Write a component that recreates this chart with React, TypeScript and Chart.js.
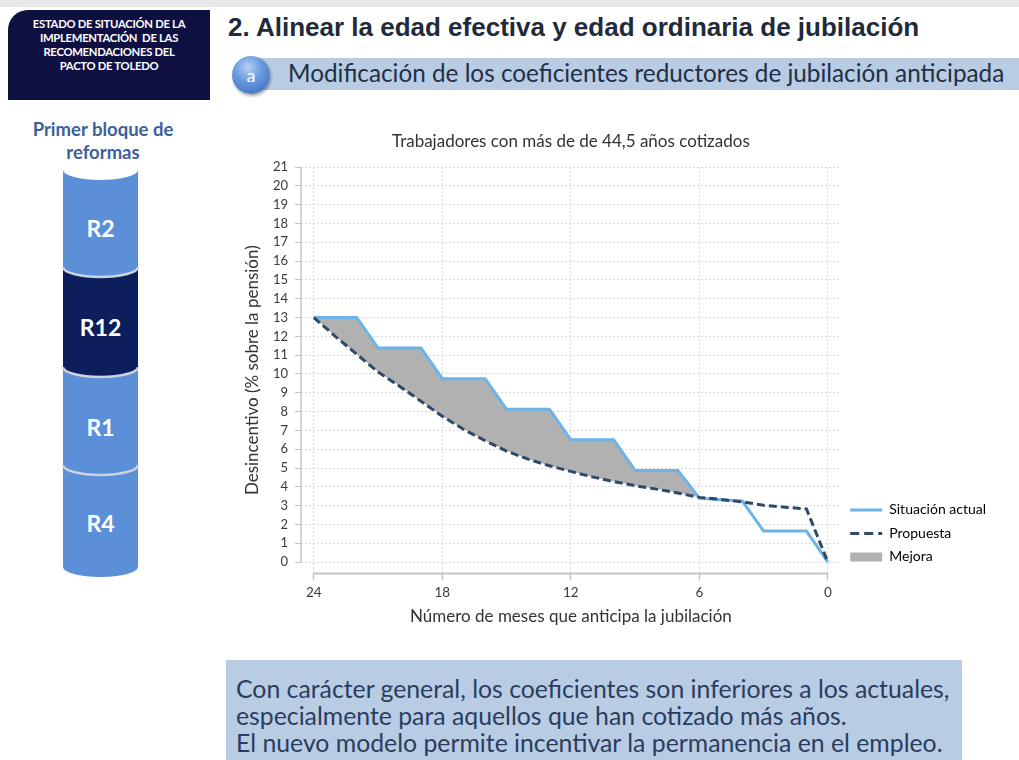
import React, { useEffect, useRef } from 'react';
import { Chart, registerables } from 'chart.js';

Chart.register(...registerables);

// ---------- Data ----------
const MESES = [24, 23, 22, 21, 20, 19, 18, 17, 16, 15, 14, 13, 12, 11, 10, 9, 8, 7, 6, 5, 4, 3, 2, 1, 0];
const SITUACION_ACTUAL = [13, 13, 13, 11.375, 11.375, 11.375, 9.75, 9.75, 9.75, 8.125, 8.125, 8.125, 6.5, 6.5, 6.5, 4.875, 4.875, 4.875, 3.4, 3.32, 3.25, 1.65, 1.65, 1.65, 0];
const PROPUESTA = [13, 12.0, 11.05, 10.1, 9.35, 8.55, 7.75, 7.05, 6.45, 5.9, 5.47, 5.12, 4.82, 4.53, 4.28, 4.06, 3.88, 3.67, 3.44, 3.33, 3.2, 3.02, 2.92, 2.83, 0];
const X_TICKS = [24, 18, 12, 6, 0];
const Y_TICKS = [0, 1, 2, 3, 4, 5, 6, 7, 8, 9, 10, 11, 12, 13, 14, 15, 16, 17, 18, 19, 20, 21];
const LEGEND_LABELS = ['Situación actual', 'Propuesta', 'Mejora'];
const CHART_TITLE = 'Trabajadores con más de de 44,5 años cotizados';
const X_TITLE = 'Número de meses que anticipa la jubilación';
const Y_TITLE = 'Desincentivo (% sobre la pensión)';

const COLOR_ACTUAL = '#6cb3e6';
const COLOR_PROPUESTA = '#2f4a68';
const COLOR_MEJORA = '#b1b1b1';
const GRID_COLOR = '#d9d9d9';
const AXIS_COLOR = '#c4c4c4';
const TEXT_COLOR = '#3a3a3a';

const CYLINDER = [
  { label: 'R2', top: 170, bottom: 267, color: '#5b8fd8', labelY: 228 },
  { label: 'R12', top: 267, bottom: 367, color: '#0c1f5c', labelY: 327 },
  { label: 'R1', top: 367, bottom: 465, color: '#5b8fd8', labelY: 427 },
  { label: 'R4', top: 465, bottom: 567, color: '#5b8fd8', labelY: 523 },
];

const axisLines = {
  id: 'axisLines',
  beforeDatasetsDraw(chart: any) {
    const { ctx, chartArea, scales } = chart;
    const x = scales.x;
    const y = scales.y;
    ctx.save();
    ctx.strokeStyle = AXIS_COLOR;
    ctx.lineWidth = 1.5;
    ctx.beginPath();
    ctx.moveTo(chartArea.left, y.getPixelForValue(Y_TICKS[Y_TICKS.length - 1]));
    ctx.lineTo(chartArea.left, y.getPixelForValue(Y_TICKS[0]));
    ctx.stroke();
    ctx.lineWidth = 2;
    ctx.beginPath();
    ctx.moveTo(x.getPixelForValue(X_TICKS[0]), chartArea.bottom);
    ctx.lineTo(x.getPixelForValue(X_TICKS[X_TICKS.length - 1]), chartArea.bottom);
    ctx.stroke();
    ctx.restore();
  },
};

function ChartBox() {
  const ref = useRef<HTMLCanvasElement>(null);
  useEffect(() => {
    if (!ref.current) return;
    Chart.defaults.font.family = 'Lato';
    const chart = new Chart(ref.current, {
      type: 'line',
      data: {
        datasets: [
          {
            label: LEGEND_LABELS[0],
            data: MESES.map((m, i) => ({ x: m, y: SITUACION_ACTUAL[i] })),
            borderColor: COLOR_ACTUAL,
            backgroundColor: COLOR_ACTUAL,
            borderWidth: 3,
            pointRadius: 0,
            tension: 0,
            fill: { target: 1, above: COLOR_MEJORA, below: 'rgba(0,0,0,0)' },
            order: 2,
          },
          {
            label: LEGEND_LABELS[1],
            data: MESES.map((m, i) => ({ x: m, y: PROPUESTA[i] })),
            borderColor: COLOR_PROPUESTA,
            backgroundColor: COLOR_PROPUESTA,
            borderWidth: 3,
            borderDash: [8, 4],
            pointRadius: 0,
            tension: 0,
            fill: false,
            order: 1,
          },
        ],
      },
      options: {
        animation: false,
        responsive: false,
        maintainAspectRatio: false,
        events: [],
        layout: { padding: 0 },
        plugins: {
          filler: { drawTime: 'beforeDatasetsDraw' },
          tooltip: { enabled: false },
          title: {
            display: true,
            text: CHART_TITLE,
            fullSize: false,
            color: '#333',
            font: { family: 'Lato', size: 17, weight: 'normal' },
            padding: { top: 5, bottom: 15.6 },
          },
          legend: {
            position: 'right',
            align: 'end',
            fullSize: false,
            labels: {
              usePointStyle: true,
              pointStyleWidth: 32,
              boxHeight: 9,
              padding: 9.5,
              color: '#555',
              font: { family: 'Lato', size: 14 },
              generateLabels: () => [
                { text: LEGEND_LABELS[0], fillStyle: COLOR_ACTUAL, strokeStyle: COLOR_ACTUAL, lineWidth: 3, lineDash: [], pointStyle: 'line', hidden: false, datasetIndex: 0 },
                { text: LEGEND_LABELS[1], fillStyle: COLOR_PROPUESTA, strokeStyle: COLOR_PROPUESTA, lineWidth: 3, lineDash: [9, 5], pointStyle: 'line', hidden: false, datasetIndex: 1 },
                { text: LEGEND_LABELS[2], fillStyle: COLOR_MEJORA, strokeStyle: COLOR_MEJORA, lineWidth: 0, pointStyle: 'rect', hidden: false },
              ] as any,
            },
          },
        },
        scales: {
          x: {
            type: 'linear',
            reverse: true,
            min: -0.6,
            max: 24.6,
            afterBuildTicks: (s: any) => { s.ticks = X_TICKS.map((v) => ({ value: v })); },
            ticks: { color: TEXT_COLOR, font: { family: 'Lato', size: 13.5 }, padding: 4, autoSkip: false, maxRotation: 0 },
            grid: { color: GRID_COLOR, lineWidth: 1, tickLength: 7, tickColor: AXIS_COLOR, tickWidth: 1.5, tickBorderDash: [] },
            border: { display: false, dash: [2, 2] },
            title: { display: true, text: X_TITLE, color: '#333', font: { family: 'Lato', size: 17 }, padding: { top: 2, bottom: 3 } },
          },
          y: {
            type: 'linear',
            min: -0.6,
            max: 21,
            afterBuildTicks: (s: any) => { s.ticks = Y_TICKS.map((v) => ({ value: v })); },
            afterFit: (s: any) => { s.width = 63; },
            ticks: { color: TEXT_COLOR, font: { family: 'Lato', size: 13 }, padding: 7, autoSkip: false },
            grid: { color: GRID_COLOR, lineWidth: 1, tickLength: 6, tickColor: AXIS_COLOR, tickWidth: 1, tickBorderDash: [] },
            border: { display: false, dash: [2, 2] },
            title: { display: true, text: Y_TITLE, color: '#333', font: { family: 'Lato', size: 17 }, padding: { top: 4, bottom: 4 } },
          },
        },
      },
      plugins: [axisLines],
    } as any);
    return () => chart.destroy();
  }, []);
  return (
    <canvas
      ref={ref}
      width={758}
      height={504}
      style={{ position: 'absolute', left: 238, top: 126, width: 758, height: 504 }}
    />
  );
}

function Cylinder() {
  const L = 63;
  const R = 138;
  const rx = (R - L) / 2;
  const ry = 10;
  return (
    <svg width={220} height={600} style={{ position: 'absolute', left: 0, top: 0 }}>
      {CYLINDER.map((s) => (
        <path
          key={s.label}
          d={`M ${L} ${s.top} A ${rx} ${ry} 0 0 0 ${R} ${s.top} L ${R} ${s.bottom} A ${rx} ${ry} 0 0 1 ${L} ${s.bottom} Z`}
          fill={s.color}
        />
      ))}
      {CYLINDER.slice(1).map((s) => (
        <path
          key={'sep' + s.label}
          d={`M ${L} ${s.top} A ${rx} ${ry} 0 0 0 ${R} ${s.top}`}
          fill="none"
          stroke="#cdd3dc"
          strokeWidth={2.5}
        />
      ))}
      {CYLINDER.map((s) => (
        <text
          key={'t' + s.label}
          x={(L + R) / 2}
          y={s.labelY}
          textAnchor="middle"
          dominantBaseline="central"
          fill="#ffffff"
          style={{ fontFamily: 'Lato', fontWeight: 700, fontSize: 23 }}
        >
          {s.label}
        </text>
      ))}
    </svg>
  );
}

export default function App() {
  return (
    <div
      style={{
        position: 'absolute',
        left: 0,
        top: 0,
        width: 1019,
        height: 760,
        background: '#ffffff',
        overflow: 'hidden',
        fontFamily: 'Lato, sans-serif',
      }}
    >
      <div style={{ position: 'absolute', left: 0, top: 0, width: 1019, height: 7, background: '#e8e8e8' }} />
      <div
        style={{
          position: 'absolute',
          left: 8,
          top: 10,
          width: 202,
          height: 90,
          background: '#0f1042',
          borderTopLeftRadius: 20,
        }}
      />
      <div
        style={{
          position: 'absolute',
          left: 8,
          top: 17,
          width: 202,
          textAlign: 'center',
          color: '#ffffff',
          fontFamily: 'Lato',
          fontWeight: 700,
          fontSize: 11.3,
          lineHeight: '14px',
          letterSpacing: -0.3,
          whiteSpace: 'nowrap',
        }}
      >
        <div>ESTADO DE SITUACIÓN DE LA</div>
        <div>IMPLEMENTACIÓN&nbsp; DE LAS</div>
        <div>RECOMENDACIONES DEL</div>
        <div>PACTO DE TOLEDO</div>
      </div>

      <div
        style={{
          position: 'absolute',
          left: 228,
          top: 12,
          height: 30,
          lineHeight: '30px',
          fontFamily: '"Liberation Sans", Arial, sans-serif',
          fontWeight: 700,
          fontSize: 26,
          color: '#1f2b3a',
          whiteSpace: 'nowrap',
        }}
      >
        2. Alinear la edad efectiva y edad ordinaria de jubilación
      </div>

      <div style={{ position: 'absolute', left: 242, top: 58, width: 777, height: 32, background: '#b8cce4' }} />
      <div
        style={{
          position: 'absolute',
          left: 232,
          top: 56,
          width: 38,
          height: 38,
          borderRadius: '50%',
          background: 'radial-gradient(circle at 42% 30%, #b4cff3 0%, #6a9be0 40%, #3565b4 100%)',
          boxShadow: '1px 2px 3px rgba(0,0,0,0.35)',
          color: '#ffffff',
          textAlign: 'center',
          lineHeight: '38px',
          fontFamily: 'Lato',
          fontSize: 18,
        }}
      >
        a
      </div>
      <div
        style={{
          position: 'absolute',
          left: 288,
          top: 57,
          height: 32,
          lineHeight: '32px',
          fontFamily: 'Lato',
          fontSize: 24.3,
          color: '#222f44',
          whiteSpace: 'nowrap',
        }}
      >
        Modificación de los coeficientes reductores de jubilación anticipada
      </div>

      <div
        style={{
          position: 'absolute',
          left: 3,
          top: 118,
          width: 200,
          textAlign: 'center',
          fontFamily: 'Lato',
          fontWeight: 700,
          fontSize: 18.5,
          lineHeight: '23px',
          color: '#3d609a',
          whiteSpace: 'nowrap',
        }}
      >
        Primer bloque de
        <br />
        reformas
      </div>
      <Cylinder />

      <ChartBox />

      <div
        style={{
          position: 'absolute',
          left: 226,
          top: 660,
          width: 736,
          height: 100,
          background: '#b8cce4',
        }}
      />
      <div
        style={{
          position: 'absolute',
          left: 236,
          top: 675,
          fontFamily: 'Lato',
          fontSize: 24.8,
          lineHeight: '27px',
          color: '#2b3d5e',
          whiteSpace: 'nowrap',
        }}
      >
        <div>Con carácter general, los coeficientes son inferiores a los actuales,</div>
        <div>especialmente para aquellos que han cotizado más años.</div>
        <div>El nuevo modelo permite incentivar la permanencia en el empleo.</div>
      </div>
    </div>
  );
}
